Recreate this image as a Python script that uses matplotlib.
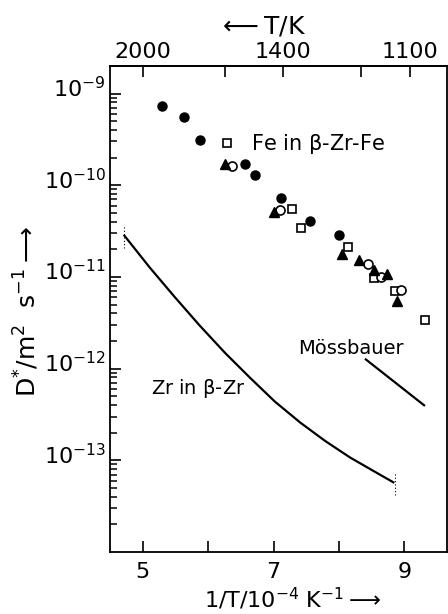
import numpy as np
import matplotlib
matplotlib.use('Agg')
import matplotlib.pyplot as plt
from matplotlib.ticker import FixedLocator, NullFormatter
from matplotlib.transforms import ScaledTranslation

plt.rcParams['font.family'] = ['DejaVu Sans']
plt.rcParams['mathtext.default'] = 'regular'

# Fe in beta-Zr-Fe, x in 10^-4 K^-1, D in m^2/s
fe_filled_circ_x = [5.30, 5.63, 5.88, 6.56, 6.71, 7.11, 7.55, 8.00]
fe_filled_circ_y = [7.4e-10, 5.5e-10, 3.1e-10, 1.71e-10, 1.30e-10, 7.2e-11, 4.1e-11, 2.9e-11]

fe_square_x = [6.29, 7.28, 7.42, 8.13, 8.53, 8.86, 9.31]
fe_square_y = [2.92e-10, 5.5e-11, 3.4e-11, 2.11e-11, 9.8e-12, 7.1e-12, 3.4e-12]

fe_triangle_x = [6.25, 7.00, 8.05, 8.30, 8.53, 8.74, 8.89]
fe_triangle_y = [1.71e-10, 5.1e-11, 1.79e-11, 1.54e-11, 1.18e-11, 1.08e-11, 5.5e-12]

fe_open_circ_x = [6.37, 7.10, 8.44, 8.64, 8.94]
fe_open_circ_y = [1.63e-10, 5.3e-11, 1.39e-11, 9.95e-12, 7.2e-12]

# Zr self diffusion curve (log10 D)
zr_x = [4.72, 5.11, 5.49, 5.87, 6.26, 6.64, 7.02, 7.41, 7.79, 8.17, 8.56, 8.83]
zr_logy = [-10.55, -10.90, -11.22, -11.53, -11.83, -12.10, -12.36, -12.59,
           -12.79, -12.97, -13.13, -13.24]
zr_y = [10**v for v in zr_logy]
# dotted error bars at the ends of the curve
zr_err_x = [4.72, 8.86]
zr_err_lo = [10**-10.68, 10**-13.38]
zr_err_hi = [10**-10.44, 10**-13.13]

# Mössbauer line
moss_x = [8.41, 9.30]
moss_y = [10**-11.90, 10**-12.40]

top_T = [2000, 1600, 1400, 1200, 1100]
top_labels = ['2000', '', '1400', '', '1100']

fig = plt.figure(figsize=(4.48, 6.14), dpi=100)
ax = fig.add_axes([110 / 448, 1 - 552 / 614, 337 / 448, 486 / 614])

ax.plot(fe_filled_circ_x, fe_filled_circ_y, 'o', color='black', markersize=6.5, zorder=3)
ax.plot(fe_square_x, fe_square_y, 's', mfc='white', mec='black', mew=1.2, markersize=6, zorder=3)
ax.plot(fe_triangle_x, fe_triangle_y, '^', color='black', markersize=7.5, zorder=4)
ax.plot(fe_open_circ_x, fe_open_circ_y, 'o', mfc='white', mec='black', mew=1.2, markersize=6.5, zorder=3)

ax.plot(zr_x, zr_y, color='black', lw=1.6, solid_joinstyle='round')
ax.vlines(zr_err_x, zr_err_lo, zr_err_hi, colors='black', linestyles=(0, (1, 2)), lw=0.8)
ax.plot(moss_x, moss_y, color='black', lw=1.6)

ax.text(6.65, 10**-9.55, 'Fe in $\\beta$-Zr-Fe', fontsize=15, va='center', ha='left')
ax.text(7.37, 10**-11.78, 'Mössbauer', fontsize=14, va='center', ha='left')
ax.text(5.13, 10**-12.215, 'Zr in $\\beta$-Zr', fontsize=14, va='center', ha='left')

ax.set_yscale('log')
ax.set_xlim(4.5, 9.65)
ax.set_ylim(1e-14, 10**-8.7)
ax.set_xticks([5, 6, 7, 8, 9], labels=['5', '', '7', '', '9'])
ax.set_yticks([1e-13, 1e-12, 1e-11, 1e-10, 1e-9])
minor_y = [m * 10.0**e for e in range(-14, -8) for m in range(2, 10)]
ax.yaxis.set_minor_locator(FixedLocator(minor_y))
ax.yaxis.set_minor_formatter(NullFormatter())
ax.tick_params(axis='both', which='major', direction='in', length=8, width=1.2, labelsize=16)
ax.tick_params(axis='y', which='minor', direction='in', length=5, width=1.1, color='black')
ax.tick_params(axis='x', which='major', pad=7)
ax.tick_params(axis='y', which='major', pad=3)
for s in ax.spines.values():
    s.set_linewidth(1.3)
# y labels sit a little above their ticks in the original
for lbl in ax.get_yticklabels():
    lbl.set_transform(lbl.get_transform() + ScaledTranslation(0, 5 / 72, fig.dpi_scale_trans))

secax = ax.secondary_xaxis('top', functions=(lambda x: 1e4 / x, lambda t: 1e4 / t))
secax.set_xticks(top_T, labels=top_labels)
secax.tick_params(direction='in', length=8, width=1.2, labelsize=16, pad=3)
secax.spines['top'].set_linewidth(1.3)

fig.text(262 / 448, 1 - 27 / 614, '$\\longleftarrow$T/K', fontsize=18, ha='center', va='center')
fig.text(293 / 448, 1 - 599 / 614, '1/T/10$^{-4}$ K$^{-1}$$\\longrightarrow$', fontsize=16,
         ha='center', va='center')
fig.text(27 / 448, 1 - 312 / 614, 'D$^{*}$/m$^{2}$  s$^{-1}$$\\longrightarrow$', fontsize=18,
         ha='center', va='center', rotation=90)

fig.savefig('out.png', dpi=100)
